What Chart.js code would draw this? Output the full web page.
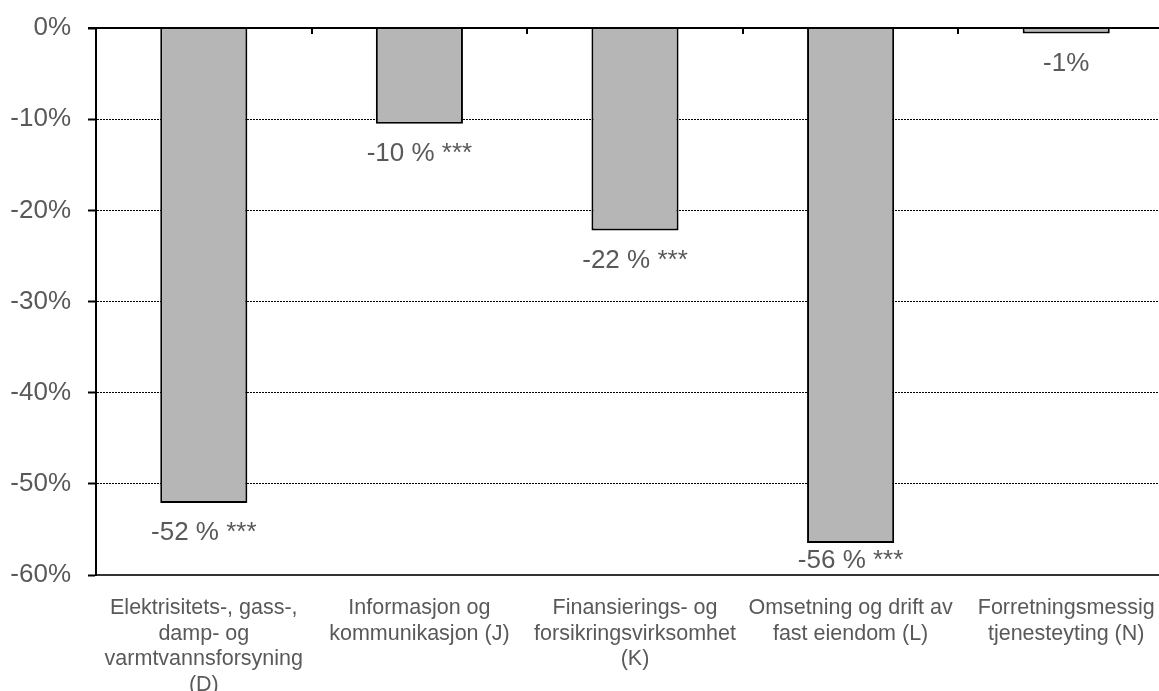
<!DOCTYPE html>
<html>
<head>
<meta charset="utf-8">
<script src="https://cdn.jsdelivr.net/npm/chart.js@4/dist/chart.umd.min.js"></script>
<style>
  html, body { margin: 0; padding: 0; background: #fff; overflow: hidden; width: 1159px; height: 691px; }
  #wrap { position: absolute; left: 0; top: 0; width: 1176px; height: 691px; }
</style>
</head>
<body>
<div id="wrap"><canvas id="c" width="1176" height="691"></canvas></div>
<script>
const categories = [
  ["Elektrisitets-, gass-,", "damp- og", "varmtvannsforsyning", "(D)"],
  ["Informasjon og", "kommunikasjon (J)"],
  ["Finansierings- og", "forsikringsvirksomhet", "(K)"],
  ["Omsetning og drift av", "fast eiendom (L)"],
  ["Forretningsmessig", "tjenesteyting (N)"]
];
const values = [-52.1, -10.5, -22.2, -56.5, -0.6];
const valueLabels = ["-52 % ***", "-10 % ***", "-22 % ***", "-56 % ***", "-1%"];
const yTicks = { min: -60, max: 0, step: 10 };

const TEXT = '#595959';
const FONT = '"Liberation Sans", Arial, sans-serif';

const decorPlugin = {
  id: 'decor',
  afterDatasetsDraw(chart) {
    const ctx = chart.ctx;
    const x = chart.scales.x, y = chart.scales.y;
    const area = chart.chartArea;
    const y0 = y.getPixelForValue(0);
    ctx.save();
    ctx.strokeStyle = '#000';
    ctx.lineWidth = 2;
    ctx.beginPath();
    ctx.moveTo(area.left - 8, y0);
    ctx.lineTo(area.right + 10, y0);
    ctx.stroke();
    for (let i = 0; i < categories.length - 1; i++) {
      const bx = Math.round((x.getPixelForValue(i) + x.getPixelForValue(i + 1)) / 2);
      ctx.beginPath();
      ctx.moveTo(bx, y0);
      ctx.lineTo(bx, y0 + 6);
      ctx.stroke();
    }
    ctx.fillStyle = TEXT;
    ctx.font = '26px ' + FONT;
    ctx.textAlign = 'center';
    ctx.textBaseline = 'middle';
    const meta = chart.getDatasetMeta(0);
    meta.data.forEach((bar, i) => {
      let ty = bar.y + 30;
      ty = Math.min(ty, area.bottom - 14);
      ctx.fillText(valueLabels[i], bar.x, ty);
    });
    ctx.restore();
  }
};

new Chart(document.getElementById('c'), {
  type: 'bar',
  data: {
    labels: categories,
    datasets: [{
      data: values,
      backgroundColor: '#b6b6b6',
      borderColor: '#000',
      borderWidth: 2,
      barPercentage: 0.404,
      categoryPercentage: 1
    }]
  },
  options: {
    responsive: false,
    animation: false,
    devicePixelRatio: 1,
    layout: { padding: { top: 28, right: 2, bottom: 0, left: 0 } },
    plugins: { legend: { display: false }, tooltip: { enabled: false } },
    scales: {
      x: {
        grid: { display: false },
        border: { display: true, color: '#333', width: 2 },
        ticks: {
          color: TEXT,
          font: { family: FONT, size: 21.5, lineHeight: 1.2 },
          padding: 12,
          maxRotation: 0,
          minRotation: 0,
          autoSkip: false
        },
        afterFit(scale) { scale.height = 116; }
      },
      y: {
        min: yTicks.min,
        max: yTicks.max,
        grid: {
          color: ctx => (ctx.tick && ctx.tick.value === 0) ? 'rgba(0,0,0,0)' : '#000',
          lineWidth: 1,
          drawTicks: true,
          tickLength: 8,
          tickColor: '#000',
          tickWidth: 2
        },
        border: { display: true, color: '#000', width: 2, dash: [2, 1] },
        ticks: {
          stepSize: yTicks.step,
          color: TEXT,
          font: { family: FONT, size: 26 },
          padding: 17,
          callback: v => v + '%'
        },
        afterFit(scale) { scale.width = 96; scale.paddingTop = 0; scale.paddingBottom = 0; }
      }
    }
  },
  plugins: [decorPlugin]
});
</script>
</body>
</html>
